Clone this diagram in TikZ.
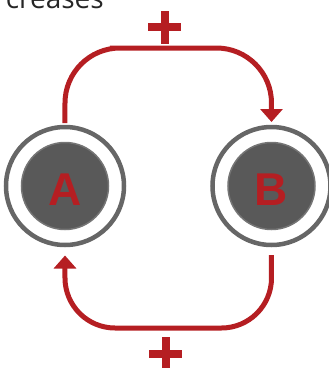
\documentclass[tikz,border=0pt]{standalone}
\usepackage{fontspec}
\setmainfont{Liberation Sans}
\newfontfamily\captionfont{Open Sans}
\usepackage{xcolor}
\usetikzlibrary{arrows.meta,positioning}

\definecolor{loopred}{RGB}{181,30,34}
\definecolor{ringgray}{RGB}{102,102,102}
\definecolor{diskgray}{RGB}{89,89,89}

\tikzset{
  ring/.style={circle, draw=ringgray, line width=4.5pt, minimum size=118pt, inner sep=0pt, outer sep=0pt},
  disk/.style={circle, fill=diskgray, draw=ringgray!90, line width=1.5pt, minimum size=87pt, inner sep=0pt},
  letter/.style={text=loopred, font=\fontsize{46}{46}\selectfont\bfseries},
  loopline/.style={draw=loopred, line width=5pt, rounded corners=55pt,
                   -{Triangle[width=22pt,length=13pt]}}
}

% plus sign drawn from two bars
\newcommand{\plusmark}[1]{%
  \fill[loopred] ($(#1)+(-16.5,-4)$) rectangle ($(#1)+(16.5,4)$);
  \fill[loopred] ($(#1)+(-4,-16.5)$) rectangle ($(#1)+(4,16.5)$);
}
\usetikzlibrary{calc}

\begin{document}
\begin{tikzpicture}[x=1pt,y=-1pt]
  \useasboundingbox (0,0) rectangle (329,368);

  % caption cut at the top
  \node[anchor=base east, inner sep=0pt, font=\captionfont\fontsize{28}{28}\selectfont, text=black!85] (cap) at (104,8) {creases};

  % the two quantities
  \node[ring] (A) at (65,186) {};
  \node[disk] (diskA) at (A) {};
  \node[letter] (labelA) at ([yshift=-4pt]A.center) {A};

  \node[ring] (B) at (271.5,186) {};
  \node[disk] (diskB) at (B) {};
  \node[letter] (labelB) at ([yshift=-4pt]B.center) {B};

  % feedback loops
  \coordinate (top) at (165,48);
  \coordinate (bottom) at (165,328);
  \draw[loopline, shorten <=4pt, shorten >=5pt] (A.north) |- (top) -| (B.north);
  \draw[loopline, rounded corners=50pt, shorten <=10pt, shorten >=10.5pt] (B.south) |- (bottom) -| (A.south);

  % signs
  \plusmark{165,27}
  \plusmark{166,353.5}
\end{tikzpicture}
\end{document}
